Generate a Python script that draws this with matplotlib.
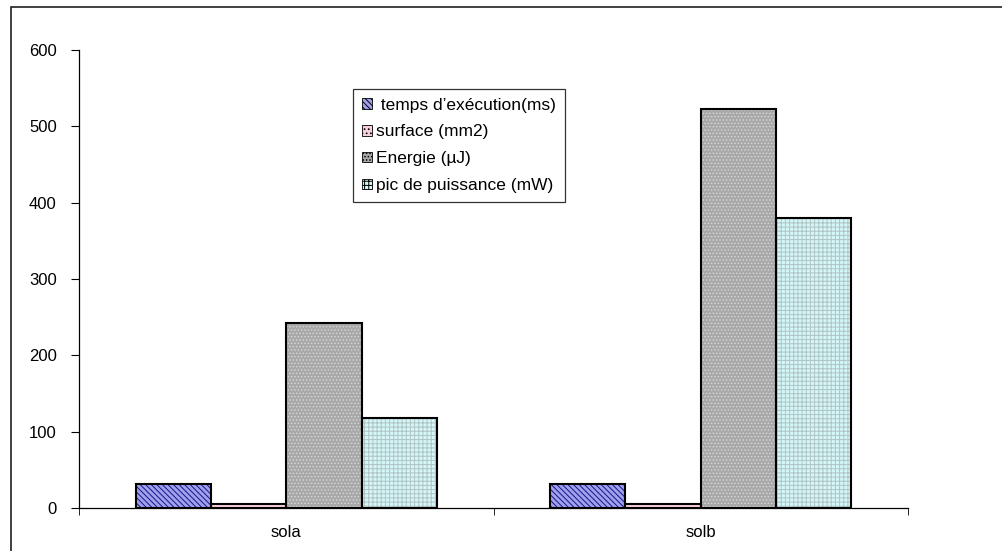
"""Grouped bar chart: sola vs solb characteristics"""

import matplotlib
matplotlib.use('Agg')
import matplotlib.pyplot as plt
from matplotlib.patches import Patch, Rectangle
import numpy as np

plt.rcParams['font.family'] = ['Liberation Sans', 'DejaVu Sans']
plt.rcParams['hatch.linewidth'] = 0.7

categories = ['sola', 'solb']
series_labels = [' temps d\u2019exécution(ms)', 'surface (mm2)', 'Energie (µJ)', 'pic de puissance (mW)']
temps = [32, 32]
surface = [5, 5]
energie = [243, 523]
puissance = [118, 380]
yticks = [0, 100, 200, 300, 400, 500, 600]

series = [temps, surface, energie, puissance]
# (face, hatch colour, hatch pattern)
styles = [
    ('#a0a0ec', '#14148a', '\\\\\\\\\\\\'),
    ('#f8d0dc', '#d890a8', '....'),
    ('#a8a8a8', '#d4d4d4', '.....'),
    ('#d4f6f6', '#b0c4c4', '++++'),
]

fig = plt.figure(figsize=(10.03, 5.51), dpi=100)
ax = fig.add_axes([79 / 1003, 1 - 508 / 551, (908 - 79) / 1003, (508 - 50) / 551])

x = np.arange(len(categories))
width = 1 / 5.5
for i, (vals, (face, hcol, hatch)) in enumerate(zip(series, styles)):
    pos = x + (i - 1.5) * width
    ax.bar(pos, vals, width, color=face, edgecolor=hcol, hatch=hatch, linewidth=0, zorder=2)
    ax.bar(pos, vals, width, fill=False, edgecolor='black', linewidth=1.5, zorder=3)

ax.set_xlim(-0.5, len(categories) - 0.5)
ax.set_ylim(0, 600)
ax.set_yticks(yticks)
ax.set_xticks(x)
ax.set_xticklabels(categories)
ax.set_xticks(np.arange(len(categories) + 1) - 0.5, minor=True)
ax.tick_params(axis='x', which='major', length=0, pad=12, labelsize=12)
ax.tick_params(axis='x', which='minor', length=5, direction='out', color='black')
ax.tick_params(axis='y', length=6, direction='out', pad=10, labelsize=12)
for side in ['top', 'right']:
    ax.spines[side].set_visible(False)
for side in ['left', 'bottom']:
    ax.spines[side].set_linewidth(0.9)

handles = [Patch(facecolor=face, edgecolor=hcol, hatch=hatch, linewidth=0) for face, hcol, hatch in styles]
leg = fig.legend(handles, series_labels, loc='upper left',
                 bbox_to_anchor=(353 / 1003, 1 - 89 / 551),
                 fontsize=12.5, frameon=True, fancybox=False, shadow=False,
                 handlelength=0.6, handleheight=0.55, handletextpad=0.25,
                 labelspacing=0.68, borderpad=0.5, borderaxespad=0)
leg.get_frame().set_edgecolor('black')
leg.get_frame().set_linewidth(0.9)
for h in leg.legend_handles:
    h.set_edgecolor('black')
    h.set_linewidth(0.6)

# outer chart border (cropped at right and bottom)
fig.patches.append(Rectangle((11 / 1003, -0.1), 1.2, 1.1 - 7 / 551, transform=fig.transFigure,
                             fill=False, edgecolor='#202020', linewidth=1.2))

fig.savefig('out.png', dpi=100)
